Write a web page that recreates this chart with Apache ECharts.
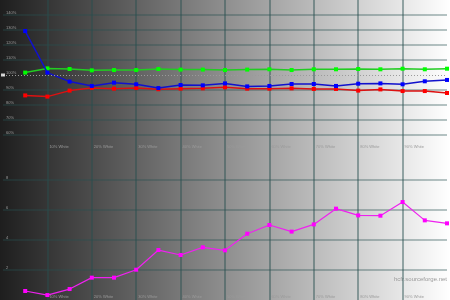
<!DOCTYPE html>
<html>
<head>
<meta charset="utf-8">
<script src="https://cdn.jsdelivr.net/npm/echarts@6/dist/echarts.min.js"></script>
<style>
html,body{margin:0;padding:0;}
#c{width:450px;height:300px;background:linear-gradient(to right,#1e1e1e,#ffffff);}
</style>
</head>
<body>
<div id="c"></div>
<script>
// Luminance levels (% White)
var levels = [5,10,15,20,25,30,35,40,45,50,55,60,65,70,75,80,85,90,95,100];
// RGB levels (%)
var redVals   = [86.4,85.6,89.6,91.3,90.9,91.3,90.5,90.9,91.1,91.8,90.9,90.9,91.1,90.7,90.7,89.6,90.4,89.3,89.3,88.0];
var greenVals = [101.6,104.4,104.0,103.1,103.3,103.3,104.0,103.6,103.6,103.3,103.6,103.8,103.3,103.8,103.8,104.0,103.8,104.2,103.8,104.2];
var blueVals  = [129.3,101.6,95.6,92.7,94.9,93.8,91.3,93.3,93.1,94.4,92.4,92.7,94.0,94.0,92.7,94.2,94.4,93.8,95.8,96.7];
// deltaE
var deltaE    = [0.6,0.33,0.73,1.49,1.49,2.02,3.33,3.0,3.51,3.31,4.42,5.0,4.56,5.04,6.09,5.64,5.62,6.53,5.31,5.11];
// reference level marker
var refLevel = 100;
var watermark = 'hcfr.sourceforge.net';

function pairs(vals){ return levels.map(function(l,i){ return [l, vals[i]]; }); }

var gridCol = 'rgba(40,80,80,0.45)';
var none = 'rgba(0,0,0,0)';
function splitColors(n, hide){
  var a = [];
  for (var k = 0; k < n; k++) a.push(hide.indexOf(k) >= 0 ? none : gridCol);
  return a;
}

var labelStyle = {color:'#9a9a9a', fontSize:4, fontFamily:'Liberation Sans, Arial, sans-serif'};

function xAxis(gi){
  return {
    type:'value', gridIndex:gi, min:0, max:100, interval:10,
    axisLine:{show:false}, axisTick:{show:false},
    splitLine:{show:true, lineStyle:{color:splitColors(11,[0,10]), width:2}},
    axisLabel:Object.assign({inside:true, margin:1, align:'left', padding:[0,0,0,2],
      formatter:function(v){ return (v>0 && v<100) ? v+'% White' : ''; }}, labelStyle)
  };
}

var chart = echarts.init(document.getElementById('c'), null, {renderer:'canvas'});
chart.setOption({
  backgroundColor:'transparent',
  animation:false,
  grid:[
    {left:0, right:0, top:0, height:150},
    {left:0, right:0, top:150, height:150}
  ],
  xAxis:[xAxis(0), xAxis(1)],
  yAxis:[
    {type:'value', gridIndex:0, min:50, max:150, interval:10,
     axisLine:{show:false}, axisTick:{show:false},
     splitLine:{show:true, lineStyle:{color:splitColors(11,[0,5,10]), width:1.5}},
     axisLabel:Object.assign({inside:true, margin:3, align:'left', verticalAlign:'bottom',
       formatter:function(v){ return (v>50 && v<150) ? v+'%' : ''; }}, labelStyle)},
    {type:'value', gridIndex:1, min:0, max:10, interval:2,
     axisLine:{show:false}, axisTick:{show:false},
     splitLine:{show:true, lineStyle:{color:splitColors(6,[0,5]), width:1.5}},
     axisLabel:Object.assign({inside:true, margin:3, align:'left', verticalAlign:'bottom',
       formatter:function(v){ return (v>0 && v<10) ? String(v) : ''; }}, labelStyle)}
  ],
  series:[
    {type:'line', xAxisIndex:0, yAxisIndex:0, data:pairs(greenVals), symbol:'rect', symbolSize:4,
     lineStyle:{color:'#22cc22', width:1.5}, itemStyle:{color:'#00ff00'}, z:3,
     markLine:{silent:true, symbol:'none', label:{show:false},
       lineStyle:{color:'#9a9a9a', type:[1,2], width:1},
       data:[{yAxis:refLevel}]}},
    {type:'line', xAxisIndex:0, yAxisIndex:0, data:pairs(redVals), symbol:'rect', symbolSize:4,
     lineStyle:{color:'#dd1111', width:1.5}, itemStyle:{color:'#ff0000'}, z:3},
    {type:'line', xAxisIndex:0, yAxisIndex:0, data:pairs(blueVals), symbol:'rect', symbolSize:4,
     lineStyle:{color:'#1111cc', width:1.5}, itemStyle:{color:'#0000ff'}, z:4},
    {type:'scatter', xAxisIndex:0, yAxisIndex:0, data:[[0, refLevel]], symbol:'rect', symbolSize:[4,3],
     itemStyle:{color:'#ffffff'}, z:5},
    {type:'line', xAxisIndex:1, yAxisIndex:1, data:pairs(deltaE), symbol:'rect', symbolSize:4,
     lineStyle:{color:'#ee22ee', width:1.2}, itemStyle:{color:'#ff00ff'}, z:3}
  ],
  graphic:[
    {type:'text', right:3, top:276, style:{text:watermark, fill:'#9a9a9a', fontSize:6,
      fontFamily:'Liberation Sans, Arial, sans-serif'}}
  ]
});
</script>
</body>
</html>
